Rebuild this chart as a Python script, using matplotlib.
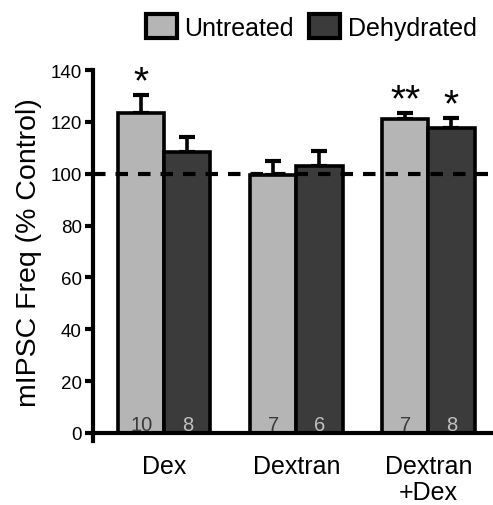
import matplotlib
matplotlib.use("Agg")
import matplotlib.pyplot as plt
import numpy as np
from matplotlib.patches import Patch

plt.rcParams['font.family'] = ['Liberation Sans', 'DejaVu Sans']

categories = ["Dex", "Dextran", "Dextran\n+Dex"]
series_names = ["Untreated", "Dehydrated"]
untreated = [123.5, 99.5, 121.0]
untreated_err = [6.8, 5.5, 2.3]
dehydrated = [108.3, 103.0, 117.5]
dehydrated_err = [5.8, 5.8, 4.0]
untreated_n = ["10", "7", "7"]
dehydrated_n = ["8", "6", "8"]
untreated_sig = ["*", "", "**"]
dehydrated_sig = ["", "", "*"]
yticks = [0, 20, 40, 60, 80, 100, 120, 140]

c_light = "#b5b5b5"
c_dark = "#3b3b3b"

fig = plt.figure(figsize=(4.93, 5.06), dpi=100)
ax = fig.add_axes([93/493, 1-434/506, 1-93/493, (434-71)/506])

x = np.arange(len(categories))
w = 0.35
ax.bar(x - w/2, untreated, w, color=c_light, edgecolor="black", linewidth=2.6, zorder=2)
ax.bar(x + w/2, dehydrated, w, color=c_dark, edgecolor="black", linewidth=2.6, zorder=2)
ax.errorbar(x - w/2, untreated, yerr=[np.zeros(3), untreated_err], fmt="none",
            ecolor="black", elinewidth=2.6, capsize=6, capthick=3, zorder=1)
ax.errorbar(x + w/2, dehydrated, yerr=[np.zeros(3), dehydrated_err], fmt="none",
            ecolor="black", elinewidth=2.6, capsize=6, capthick=3, zorder=1)

ax.axhline(100, color="black", lw=3, linestyle=(0, (3, 2.4)), zorder=3)

for xi, n in zip(x - w/2, untreated_n):
    ax.text(xi, 1.0, n, ha="center", va="baseline", fontsize=14.5, color="#3a3a3a", zorder=4)
for xi, n in zip(x + w/2, dehydrated_n):
    ax.text(xi, 1.0, n, ha="center", va="baseline", fontsize=14.5, color="#c0c0c0", zorder=4)

for xi, v, e, s in zip(x - w/2, untreated, untreated_err, untreated_sig):
    if s:
        ax.annotate(s, (xi, v + e), xytext=(0, 2), textcoords="offset points",
                    ha="center", va="baseline", fontsize=28, annotation_clip=False)
for xi, v, e, s in zip(x + w/2, dehydrated, dehydrated_err, dehydrated_sig):
    if s:
        ax.annotate(s, (xi, v + e), xytext=(0, 2), textcoords="offset points",
                    ha="center", va="baseline", fontsize=28, annotation_clip=False)

ax.set_xlim(-0.54, 2.49)
ax.set_ylim(0, 140)
ax.set_yticks(yticks)
ax.set_xticks(x)
ax.set_xticklabels(categories, fontsize=18, linespacing=1.1)
ax.tick_params(axis="x", length=0, pad=15)
ax.tick_params(axis="y", length=6, width=3, labelsize=13.5, pad=2)
for s in ["top", "right"]:
    ax.spines[s].set_visible(False)
ax.spines["left"].set_linewidth(3)
ax.spines["bottom"].set_linewidth(3)
ax.spines["left"].set_bounds(-3, 140)
ax.set_ylabel("mIPSC Freq (% Control)", fontsize=20.5, labelpad=6)

handles = [Patch(facecolor=c_light, edgecolor="black", linewidth=3),
           Patch(facecolor=c_dark, edgecolor="black", linewidth=3)]
fig.legend(handles, series_names, loc="center", bbox_to_anchor=(311/493, 1-28/506),
           ncol=2, frameon=False, fontsize=18, handlelength=1.25, handleheight=1.1,
           handletextpad=0.3, columnspacing=0.6, borderpad=0)

fig.savefig("out.png", dpi=100)
